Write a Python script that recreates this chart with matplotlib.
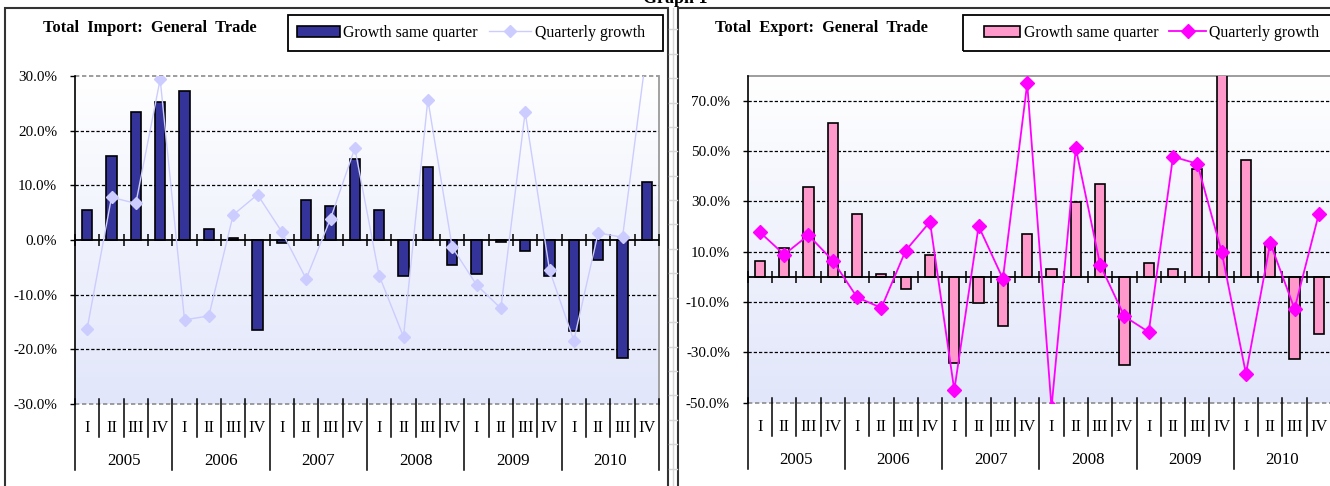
import numpy as np
import matplotlib
matplotlib.use('Agg')
import matplotlib.pyplot as plt
from matplotlib.patches import Rectangle
from matplotlib.lines import Line2D
from matplotlib.colors import LinearSegmentedColormap
from matplotlib.ticker import FuncFormatter
import matplotlib.transforms as mtransforms

plt.rcParams['font.family'] = ['Liberation Serif', 'DejaVu Serif']

# ---------------- data ----------------
years = ['2005', '2006', '2007', '2008', '2009', '2010']
quarters = ['I', 'II', 'III', 'IV']

import_same_quarter = [5.5, 15.3, 23.4, 25.3, 27.3, 2.1, 0.3, -16.4, -0.5, 7.3, 6.2, 14.8,
                       5.4, -6.5, 13.3, -4.5, -6.3, -0.3, -2.1, -6.6, -16.7, -3.7, -21.6, 10.6]
import_quarterly = [-16.2, 7.8, 6.7, 29.4, -14.6, -13.9, 4.6, 8.3, 1.5, -7.1, 3.9, 16.8,
                    -6.5, -17.7, 25.7, -1.3, -8.2, -12.5, 23.4, -5.5, -18.4, 1.3, 0.5, 34.8]
export_same_quarter = [6.5, 11.6, 35.9, 61.0, 25.1, 1.0, -4.9, 8.9, -34.3, -10.4, -19.4, 17.1,
                       3.1, 29.8, 37.1, -34.9, 5.5, 3.1, 42.8, 88.0, 46.6, 12.2, -32.7, -22.7]
export_quarterly = [17.8, 8.9, 16.6, 6.5, -8.1, -12.3, 10.5, 21.9, -45.0, 20.2, -0.7, 76.9,
                    -52.0, 51.2, 4.9, -15.7, -21.9, 47.8, 45.0, 10.0, -38.5, 13.5, -12.7, 25.1]

import_title = 'Total  Import:  General  Trade'
export_title = 'Total  Export:  General  Trade'
legend_labels = ['Growth same quarter', 'Quarterly growth']
import_yticks = [-30, -20, -10, 0, 10, 20, 30]
export_yticks = [-50, -30, -10, 10, 30, 50, 70]

# ---------------- layout ----------------
W, H = 1330, 486
fig = plt.figure(figsize=(W / 100, H / 100), dpi=100)


def px_rect(l, r, t, b):
    return [l / W, 1 - b / H, (r - l) / W, (b - t) / H]


axL = fig.add_axes(px_rect(75, 659, 76, 404))
axR = fig.add_axes(px_rect(747.7, 1331, 75.7, 402.7))

GRID_LS = (0, (2.6, 1.6))
bg_cmap = LinearSegmentedColormap.from_list('bg', ['#FFFFFF', '#E1E6FA'])


def draw_chart(ax, same, quart, bar_color, line_color, line_lw, ms, ylim, yticks,
               top_dashed, line_z):
    n = len(same)
    x = np.arange(n) + 0.5
    grad = np.linspace(0, 1, 256).reshape(-1, 1)
    ax.imshow(grad, extent=[0, 1, 0, 1], transform=ax.transAxes, cmap=bg_cmap,
              aspect='auto', zorder=0, origin='upper', interpolation='bilinear')
    for t in yticks:
        if t != 0 and ylim[0] < t < ylim[1]:
            ax.axhline(t, color='black', lw=0.9, ls=GRID_LS, zorder=1)
    # plot-area border
    ax.axhline(ylim[1], color='#8C8C8C', lw=1.2, ls=GRID_LS if top_dashed else '-',
               zorder=1, clip_on=False)
    ax.axhline(ylim[0], color='#8C8C8C', lw=1.2, ls=GRID_LS, zorder=1, clip_on=False)
    ax.axvline(n, color='#9A9A9A', lw=1.3, zorder=1, clip_on=False)

    bars = ax.bar(x, same, width=0.42, color=bar_color, edgecolor='black', lw=1.2, zorder=3)
    ax.axhline(0, color='black', lw=1.3, zorder=4)
    ax.plot(np.arange(n + 1), np.zeros(n + 1), ls='none', marker='|', ms=8.5, mew=1.1,
            color='black', zorder=4, clip_on=False)
    line, = ax.plot(x, quart, color=line_color, lw=line_lw, marker='D', ms=ms,
                    mfc=line_color, mec=line_color, zorder=line_z)

    ax.set_xlim(0, n)
    ax.set_ylim(*ylim)
    ax.set_yticks(yticks)
    ax.yaxis.set_major_formatter(FuncFormatter(lambda v, p: f'{v:.1f}%'))
    ax.tick_params(axis='y', direction='out', length=3.8, width=1.0, pad=9,
                   labelsize=10.9, colors='black')
    ax.tick_params(axis='x', bottom=False, labelbottom=False)
    for s in ['top', 'right', 'bottom']:
        ax.spines[s].set_visible(False)
    ax.spines['left'].set_linewidth(1.2)
    ax.spines['left'].set_color('black')

    # multi-level category labels
    trans = mtransforms.blended_transform_factory(ax.transData, ax.transAxes)
    hpx = ax.get_position().height * H

    def fy(px):
        return -px / hpx

    for i in range(n + 1):
        depth = 66 if i % 4 == 0 else 33
        ax.plot([i, i], [fy(-5), fy(depth)], transform=trans, color='black', lw=1.1,
                clip_on=False, zorder=5)
    for i in range(n):
        ax.text(i + 0.5, fy(24), quarters[i % 4], transform=trans, ha='center',
                va='center', fontsize=11.8)
    for k, yr in enumerate(years):
        ax.text(4 * k + 2, fy(57), yr, transform=trans, ha='center', va='center',
                fontsize=12.2)
    return bars, line


barsL, lineL = draw_chart(axL, import_same_quarter, import_quarterly, '#333399', '#CCCCFF',
                          1.0, 6.5, (-30, 30), import_yticks, True, 5)
barsR, lineR = draw_chart(axR, export_same_quarter, export_quarterly, '#FF99CC', '#FF00FF',
                          1.3, 7.5, (-50, 80), export_yticks, False, 5)

# ---------------- titles & legends ----------------
fig.text(150 / W, 1 - 28 / H, import_title, ha='center', va='center',
         fontweight='bold', fontsize=11.8)
fig.text(821 / W, 1 - 28 / H, export_title, ha='center', va='center',
         fontweight='bold', fontsize=11.8)
fig.text(675 / W, 1 - 3 / H, 'Graph 1', ha='center', va='baseline',
         fontweight='bold', fontsize=13)

for bars, line, x0, hl, bx0, bx1 in [(barsL, lineL, 297, 2.7, 288, 663),
                                     (barsR, lineR, 984, 2.3, 963, 1345)]:
    fig.legend([bars, line], legend_labels, loc='center left',
               bbox_to_anchor=(x0 / W, 1 - 33 / H), ncol=2, frameon=False,
               fontsize=11.4, handlelength=hl, handletextpad=0.2, columnspacing=0.7,
               borderpad=0, borderaxespad=0)
    fig.patches.append(Rectangle((bx0 / W, 1 - 51 / H), (bx1 - bx0) / W, 36 / H,
                                 transform=fig.transFigure, fill=False, ec='black',
                                 lw=1.3, zorder=10))

# chart frames
fig.patches.append(Rectangle((5 / W, -0.1), (668 - 5) / W, 1.1 - 8 / H,
                             transform=fig.transFigure, fill=False, ec='#333333', lw=1.5))
fig.patches.append(Rectangle((678 / W, -0.1), 0.6, 1.1 - 8 / H,
                             transform=fig.transFigure, fill=False, ec='#333333', lw=1.5))

# spreadsheet cell lines between the charts
fig.add_artist(Line2D([673 / W, 673 / W], [0, 1 - 8 / H], transform=fig.transFigure,
                      color='#D6D6D6', lw=1.0))
for k in range(-11, 10):
    yy = 273.3 + 24.4 * k
    if 8 < yy < H:
        fig.add_artist(Line2D([669 / W, 677 / W], [1 - yy / H, 1 - yy / H],
                              transform=fig.transFigure, color='#D6D6D6', lw=1.0))

fig.savefig('out.png', dpi=100)
